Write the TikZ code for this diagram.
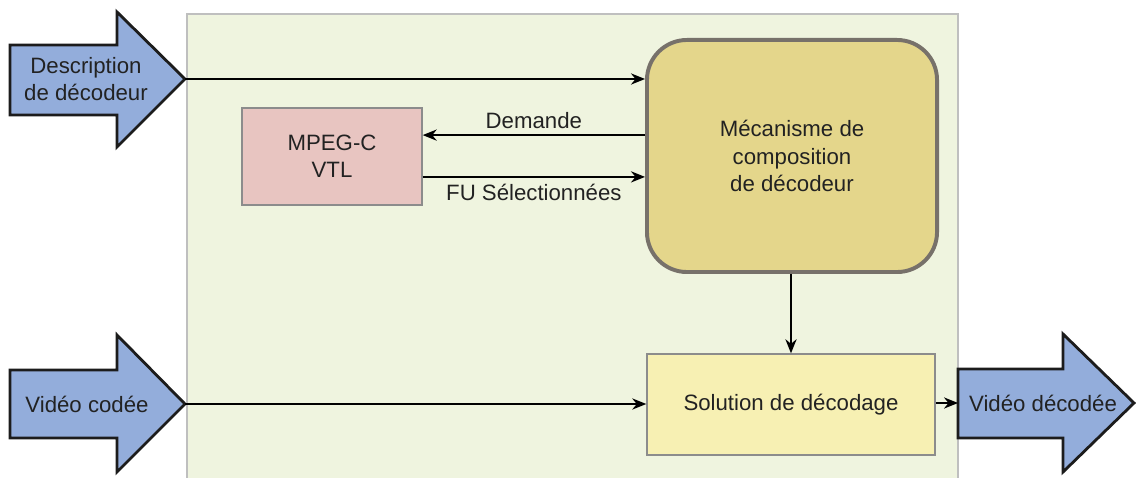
\documentclass[tikz,border=0pt]{standalone}
\usepackage{fontspec}
\setmainfont{Liberation Sans}
\usetikzlibrary{positioning, arrows.meta}

\definecolor{panelbg}{HTML}{EFF4DF}
\definecolor{panelline}{HTML}{BFBFBF}
\definecolor{arrowfill}{HTML}{93ADDB}
\definecolor{arrowline}{HTML}{1C1C1C}
\definecolor{mechfill}{HTML}{E4D68B}
\definecolor{mechline}{HTML}{77716A}
\definecolor{vtlfill}{HTML}{E8C5C1}
\definecolor{solfill}{HTML}{F7F0B3}
\definecolor{boxline}{HTML}{8C8C8C}
\definecolor{textcol}{HTML}{222222}

\begin{document}
\begin{tikzpicture}[
    x=0.025cm, y=-0.025cm,
    box/.style={draw=boxline, line width=1pt, align=center, text=textcol,
      font=\fontsize{15.8}{19.5}\selectfont},
    lbl/.style={align=center, text=textcol, font=\fontsize{15.8}{19.5}\selectfont},
    bigarrow/.style={draw=arrowline, fill=arrowfill, line width=2pt, line join=miter},
    conn/.style={line width=1.05pt},
    >={Stealth[length=10pt, width=8pt]}
  ]
    \useasboundingbox (0,0) rectangle (1136,478);

    % panel
    \fill[panelbg] (187,14) rectangle (958,480);
    \draw[panelline, line width=1pt] (187,480) -- (187,14) -- (958,14) -- (958,480);

    % big arrows
    \draw[bigarrow] (10,45) -- (117,45) -- (117,12) -- (185,79) -- (117,147)
      -- (117,115) -- (10,115) -- cycle;
    \coordinate (desctip) at (185,79);
    \node[lbl] (desc) at (86,79) {Description\\de décodeur};

    \draw[bigarrow] (10,370) -- (117,370) -- (117,335) -- (185,404) -- (117,472)
      -- (117,438) -- (10,438) -- cycle;
    \coordinate (codeetip) at (185,404);
    \node[lbl] (codee) at (87,404) {Vidéo codée};

    \draw[bigarrow] (958,369) -- (1063,369) -- (1063,334) -- (1134,403) -- (1063,472)
      -- (1063,438) -- (958,438) -- cycle;
    \coordinate (decodeetail) at (958,403);
    \node[lbl] (decodee) at (1043,403) {Vidéo décodée};

    % boxes
    \node[box, draw=mechline, fill=mechfill, line width=2.8pt, rounded corners=1cm,
      minimum width=7.25cm, minimum height=5.8cm] (mech) at (792,156)
      {Mécanisme de\\composition\\de décodeur};
    \node[box, fill=vtlfill, minimum width=4.5cm, minimum height=2.425cm]
      (vtl) at (332,156.5) {MPEG-C\\VTL};
    \node[box, fill=solfill, minimum width=7.2cm, minimum height=2.525cm]
      (sol) at (791,404.5) {Solution de décodage};

    % connectors
    \draw[->, conn] (desctip) -- (desctip -| mech.west);
    \draw[->, conn] ([yshift=0.535cm]vtl.east -| mech.west) -- ([yshift=0.535cm]vtl.east)
      node[lbl, midway, above=1pt] (dem) {Demande};
    \draw[->, conn] ([yshift=-0.51cm]vtl.east) -- ([yshift=-0.51cm]vtl.east -| mech.west)
      node[lbl, midway, below=1pt] (fu) {FU Sélectionnées};
    \draw[->, conn] (mech.south -| sol.north) -- (sol.north);
    \draw[->, conn] (codeetip) -- (codeetip -| sol.west);
    \draw[->, conn] (sol.east |- decodeetail) -- (decodeetail);
  \end{tikzpicture}
\end{document}
